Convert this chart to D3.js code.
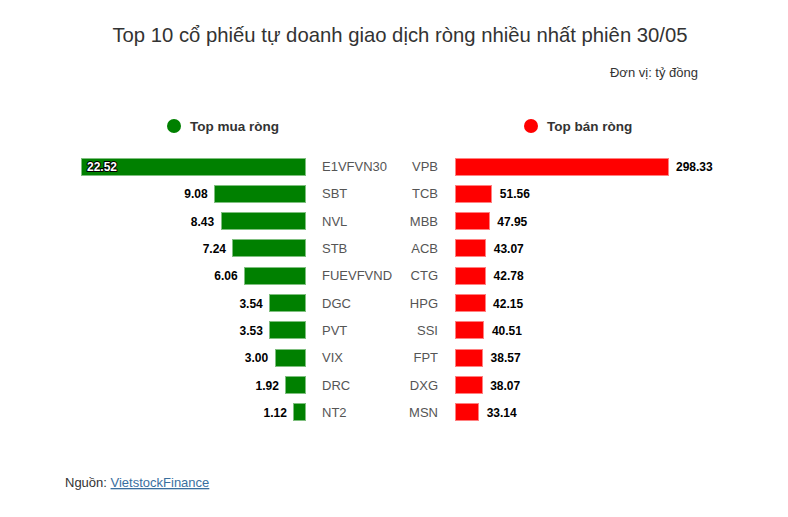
<!DOCTYPE html>
<html>
<head>
<meta charset="utf-8">
<script src="https://cdn.jsdelivr.net/npm/d3@7"></script>
<style>
body{margin:0;background:#fff;font-family:"Liberation Sans",Arial,sans-serif;}
svg{display:block;}
</style>
</head>
<body>
<svg id="chart" width="788" height="517"></svg>
<script>
const buyCodes = ["E1VFVN30","SBT","NVL","STB","FUEVFVND","DGC","PVT","VIX","DRC","NT2"];
const buyValues = [22.52,9.08,8.43,7.24,6.06,3.54,3.53,3.00,1.92,1.12];
const sellCodes = ["VPB","TCB","MBB","ACB","CTG","HPG","SSI","FPT","DXG","MSN"];
const sellValues = [298.33,51.56,47.95,43.07,42.78,42.15,40.51,38.57,38.07,33.14];
const titleText = "Top 10 cổ phiếu tự doanh giao dịch ròng nhiều nhất phiên 30/05";
const unitText = "Đơn vị: tỷ đồng";
const legendBuy = "Top mua ròng";
const legendSell = "Top bán ròng";

const svg = d3.select("#chart");
const font = "'Liberation Sans', Arial, sans-serif";

svg.append("text").attr("x",400).attr("y",42).attr("text-anchor","middle")
  .attr("font-family",font).attr("font-size",20.3).attr("fill","#333").text(titleText);
svg.append("text").attr("x",698).attr("y",77).attr("text-anchor","end")
  .attr("font-family",font).attr("font-size",13).attr("fill","#333").text(unitText);

// legends
function legend(cx, color, label){
  svg.append("circle").attr("cx",cx).attr("cy",126).attr("r",7).attr("fill",color);
  svg.append("text").attr("x",cx+16).attr("y",131).attr("font-family",font)
    .attr("font-size",13.5).attr("font-weight","bold").attr("fill","#333").text(label);
}
legend(174,"#008000",legendBuy);
legend(531,"#ff0000",legendSell);

const p = 10.33/27.33;
const y = d3.scaleBand().domain(d3.range(10)).range([152.84,426.14]).paddingInner(p).paddingOuter(p/2);

// left (buy)
const xL = d3.scaleLinear().domain([0,22.52]).range([305,81]);
const gL = svg.append("g");
gL.selectAll("rect").data(buyValues).join("rect")
  .attr("x",d=>xL(d)).attr("y",(d,i)=>y(i)).attr("width",d=>305-xL(d)).attr("height",y.bandwidth())
  .attr("fill","#008000").attr("stroke","#7fbf7f").attr("stroke-width",1).attr("shape-rendering","crispEdges");
gL.selectAll("text.cat").data(buyCodes).join("text").attr("class","cat")
  .attr("x",322).attr("y",(d,i)=>y(i)+y.bandwidth()/2+4.5)
  .attr("font-family",font).attr("font-size",13).attr("fill","#555").text(d=>d);
gL.selectAll("text.val").data(buyValues).join("text").attr("class","val")
  .attr("x",(d,i)=> i===0 ? xL(d)+6 : xL(d)-7)
  .attr("y",(d,i)=>y(i)+y.bandwidth()/2+4.5)
  .attr("text-anchor",(d,i)=> i===0 ? "start" : "end")
  .attr("font-family",font).attr("font-size",12).attr("font-weight","bold")
  .attr("fill",(d,i)=> i===0 ? "#fff" : "#000")
  .attr("stroke",(d,i)=> i===0 ? "#000" : "none").attr("stroke-width",2)
  .attr("paint-order","stroke").attr("stroke-linejoin","round")
  .text(d=>d.toFixed(2));

// right (sell)
const xR = d3.scaleLinear().domain([0,298.33]).range([455,668]);
const gR = svg.append("g");
gR.selectAll("rect").data(sellValues).join("rect")
  .attr("x",455).attr("y",(d,i)=>y(i)).attr("width",d=>xR(d)-455).attr("height",y.bandwidth())
  .attr("fill","#ff0000").attr("stroke","#ff8080").attr("stroke-width",1).attr("shape-rendering","crispEdges");
gR.selectAll("text.cat").data(sellCodes).join("text").attr("class","cat")
  .attr("x",438).attr("y",(d,i)=>y(i)+y.bandwidth()/2+4.5).attr("text-anchor","end")
  .attr("font-family",font).attr("font-size",13).attr("fill","#555").text(d=>d);
gR.selectAll("text.val").data(sellValues).join("text").attr("class","val")
  .attr("x",d=>xR(d)+8).attr("y",(d,i)=>y(i)+y.bandwidth()/2+4.5)
  .attr("font-family",font).attr("font-size",12).attr("font-weight","bold").attr("fill","#000")
  .text(d=>d.toFixed(2));

// source
const src = svg.append("text").attr("x",65).attr("y",487).attr("font-family",font).attr("font-size",13).attr("fill","#333");
src.append("tspan").text("Nguồn: ");
src.append("tspan").attr("fill","#3a6f9f").attr("text-decoration","underline").text("VietstockFinance");
</script>
</body>
</html>
